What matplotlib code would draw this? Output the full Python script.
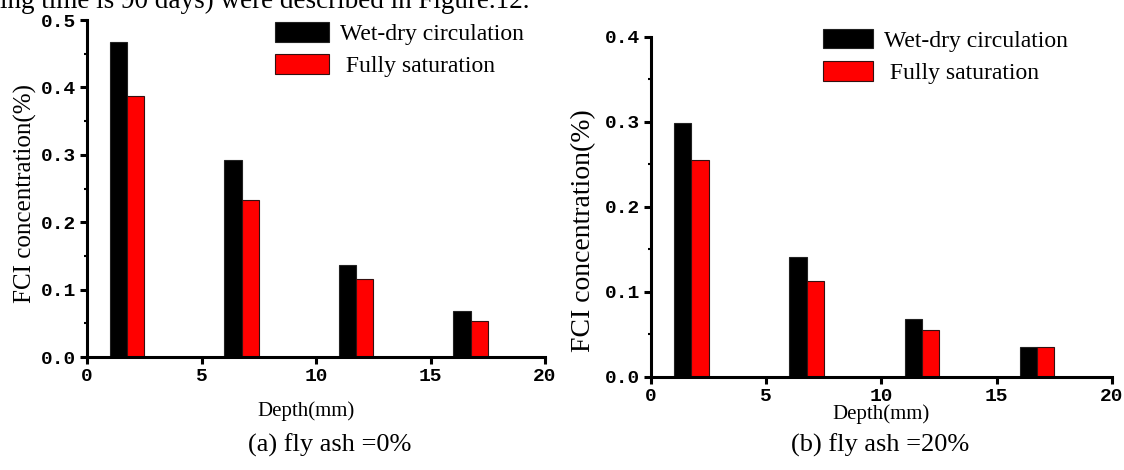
import numpy as np
import matplotlib.pyplot as plt
from matplotlib.ticker import MultipleLocator

plt.rcParams['font.family'] = ['Liberation Serif', 'DejaVu Serif']

# data
depth = [1, 6, 11, 16]
wet_dry_a = [0.467, 0.292, 0.137, 0.068]
saturated_a = [0.388, 0.233, 0.116, 0.053]
wet_dry_b = [0.299, 0.141, 0.068, 0.035]
saturated_b = [0.255, 0.113, 0.055, 0.035]

series_labels = ['Wet-dry circulation', ' Fully saturation']
captions = ['(a) fly ash =0%', '(b) fly ash =20%']

fig = plt.figure(figsize=(11.24, 4.70), dpi=100)
ax1 = fig.add_axes([0.0774, 0.2404, 0.4075, 0.717])
ax2 = fig.add_axes([0.5792, 0.1979, 0.4101, 0.7234])

w = 0.75
tick_font = dict(family='Liberation Mono', weight='bold', size=14)

def draw(ax, wet, sat, ymax, ystep, leg_anchor, hlen, ylab, xlab):
    x = np.array(depth, dtype=float)
    ax.bar(x, wet, width=w, align='edge', color='black', edgecolor='#222222',
           linewidth=0.8, label=series_labels[0])
    ax.bar(x + w, sat, width=w, align='edge', color='red', edgecolor='#331111',
           linewidth=0.8, label=series_labels[1])
    ax.set_xlim(0, 20)
    ax.set_ylim(0, ymax)
    ax.xaxis.set_major_locator(MultipleLocator(5))
    ax.yaxis.set_major_locator(MultipleLocator(ystep))
    ax.yaxis.set_minor_locator(MultipleLocator(ystep / 2))
    for s in ['top', 'right']:
        ax.spines[s].set_visible(False)
    for s in ['left', 'bottom']:
        ax.spines[s].set_linewidth(2.2)
    ax.tick_params(which='major', direction='out', length=5, width=2.2, pad=3)
    ax.tick_params(which='minor', direction='out', length=2, width=1.5)
    yt = np.arange(0, ymax + 1e-9, ystep)
    ax.set_yticks(yt)
    ax.set_yticklabels([f'{v:.1f}' for v in yt], **tick_font)
    ax.set_xticks([0, 5, 10, 15, 20])
    ax.set_xticklabels(['0', '5', '10', '15', '20'], **tick_font)
    ax.set_ylabel('FCI concentration(%)', fontsize=ylab[0])
    ax.yaxis.set_label_coords(ylab[1], ylab[2])
    ax.set_xlabel('Depth(mm)', fontsize=15)
    ax.xaxis.set_label_coords(xlab[0], xlab[1])
    ax.legend(loc='upper left', bbox_to_anchor=leg_anchor, frameon=False,
              fontsize=17, handlelength=hlen, handleheight=0.9,
              handletextpad=0.45, labelspacing=0.4, borderpad=0, borderaxespad=0)

draw(ax1, wet_dry_a, saturated_a, 0.5, 0.1, (0.41, 0.994), 2.3,
     (18, -0.11, 0.485), (0.478, -0.13))
draw(ax2, wet_dry_b, saturated_b, 0.4, 0.1, (0.373, 1.024), 2.12,
     (20, -0.12, 0.43), (0.5, -0.08))

fig.text(0.293, 0.053, captions[0], fontsize=19, ha='center', va='center')
fig.text(0.783, 0.053, captions[1], fontsize=19, ha='center', va='center')

# partial caption text cut off at the top of the crop
fig.text(0.0, 1 - 8 / 470, 'ing time is 90 days) were described in Figure.12.',
         fontsize=19.5, ha='left', va='baseline')

fig.savefig('out.png', dpi=100)
